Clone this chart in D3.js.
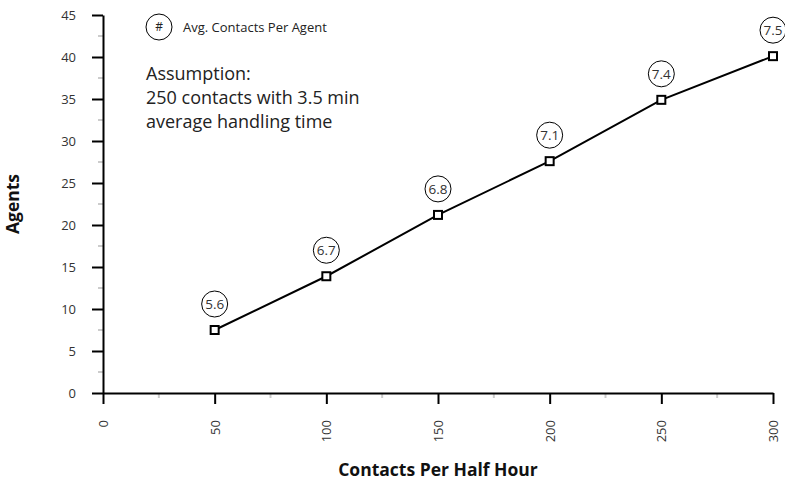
<!DOCTYPE html>
<html>
<head>
<meta charset="utf-8">
<script src="https://cdn.jsdelivr.net/npm/d3@7/dist/d3.min.js"></script>
<style>
  html, body { margin: 0; padding: 0; background: #fff; }
  svg { display: block; font-family: "Open Sans", sans-serif; }
</style>
</head>
<body>
<svg id="chart" width="785" height="480"></svg>
<script>
// Contacts handled per half hour and the agents required
const contacts = [50, 100, 150, 200, 250, 300];
const agents = [7.5, 13.9, 21.2, 27.6, 34.9, 40.1];
const perAgent = ["5.6", "6.7", "6.8", "7.1", "7.4", "7.5"];
const xTicks = [0, 50, 100, 150, 200, 250, 300];
const yTicks = [0, 5, 10, 15, 20, 25, 30, 35, 40, 45];
const assumptionLines = ["Assumption:", "250 contacts with 3.5 min", "average handling time"];

const svg = d3.select("#chart");
const x = d3.scaleLinear().domain([0, 300]).range([103, 773]);
const y = d3.scaleLinear().domain([0, 45]).range([393, 15]);

// minor ticks (grey) at half steps
const minorX = d3.range(25, 300, 50);
const minorY = d3.range(2.5, 45, 5);
svg.append("g").selectAll("line").data(minorX).join("line")
  .attr("x1", d => x(d)).attr("x2", d => x(d))
  .attr("y1", y(0)).attr("y2", y(0) + 5)
  .attr("stroke", "#ccc").attr("stroke-width", 2);
svg.append("g").selectAll("line").data(minorY).join("line")
  .attr("y1", d => y(d)).attr("y2", d => y(d))
  .attr("x1", x(0) - 5).attr("x2", x(0))
  .attr("stroke", "#ccc").attr("stroke-width", 2);

// y axis
const yAxis = svg.append("g")
  .attr("transform", `translate(${x(0)},0)`)
  .call(d3.axisLeft(y).tickValues(yTicks).tickSize(11).tickSizeOuter(0));
yAxis.select(".domain").attr("stroke", "#000").attr("stroke-width", 2);
yAxis.selectAll(".tick line").attr("stroke", "#000").attr("stroke-width", 2);
yAxis.selectAll(".tick text")
  .attr("fill", "#333").style("font-size", "13px").style("font-family", "'Open Sans', sans-serif")
  .attr("x", -27);

// x axis with rotated labels
const xAxis = svg.append("g")
  .attr("transform", `translate(0,${y(0)})`)
  .call(d3.axisBottom(x).tickValues(xTicks).tickSize(11).tickSizeOuter(0));
xAxis.select(".domain").attr("stroke", "#000").attr("stroke-width", 2);
xAxis.selectAll(".tick line").attr("stroke", "#000").attr("stroke-width", 2);
xAxis.selectAll(".tick text")
  .attr("fill", "#333").style("font-size", "13px").style("font-family", "'Open Sans', sans-serif")
  .attr("transform", "rotate(-90)")
  .attr("x", -27).attr("y", 0).attr("dy", "0.35em")
  .attr("text-anchor", "end");

// axis titles
svg.append("text")
  .attr("x", (x(0) + x(300)) / 2).attr("y", 476)
  .attr("text-anchor", "middle")
  .style("font-size", "17.5px").style("font-weight", "bold").attr("fill", "#111")
  .text("Contacts Per Half Hour");
svg.append("text")
  .attr("transform", `translate(19,${(y(0) + y(45)) / 2}) rotate(-90)`)
  .attr("text-anchor", "middle")
  .style("font-size", "17.5px").style("font-weight", "bold").attr("fill", "#111")
  .text("Agents");

// line
const pts = contacts.map((c, i) => ({ c, a: agents[i], lbl: perAgent[i] }));
svg.append("path")
  .datum(pts)
  .attr("fill", "none").attr("stroke", "#000").attr("stroke-width", 2)
  .attr("d", d3.line().x(d => x(d.c)).y(d => y(d.a)));

// square markers
svg.append("g").selectAll("rect").data(pts).join("rect")
  .attr("x", d => x(d.c) - 4).attr("y", d => y(d.a) - 4)
  .attr("width", 8).attr("height", 8)
  .attr("fill", "#fff").attr("stroke", "#000").attr("stroke-width", 2);

// circled per-agent labels
const badges = svg.append("g").selectAll("g").data(pts).join("g")
  .attr("transform", d => `translate(${x(d.c)},${y(d.a) - 26})`);
badges.append("circle").attr("r", 13)
  .attr("fill", "#fff").attr("stroke", "#000").attr("stroke-width", 1);
badges.append("text")
  .attr("text-anchor", "middle").attr("dy", "0.36em")
  .style("font-size", "13.5px").attr("fill", "#333")
  .text(d => d.lbl);

// legend
const legend = svg.append("g").attr("transform", "translate(159,27)");
legend.append("circle").attr("r", 13)
  .attr("fill", "#fff").attr("stroke", "#000").attr("stroke-width", 1);
legend.append("text").attr("text-anchor", "middle").attr("dy", "0.36em")
  .style("font-size", "12px").attr("fill", "#222").text("#");
legend.append("text").attr("x", 24).attr("dy", "0.36em")
  .style("font-size", "13px").attr("fill", "#222").text("Avg. Contacts Per Agent");

// assumption note
svg.append("g").selectAll("text").data(assumptionLines).join("text")
  .attr("x", 146).attr("y", (d, i) => 80 + i * 24)
  .style("font-size", "18px").attr("fill", "#222")
  .text(d => d);
</script>
</body>
</html>
